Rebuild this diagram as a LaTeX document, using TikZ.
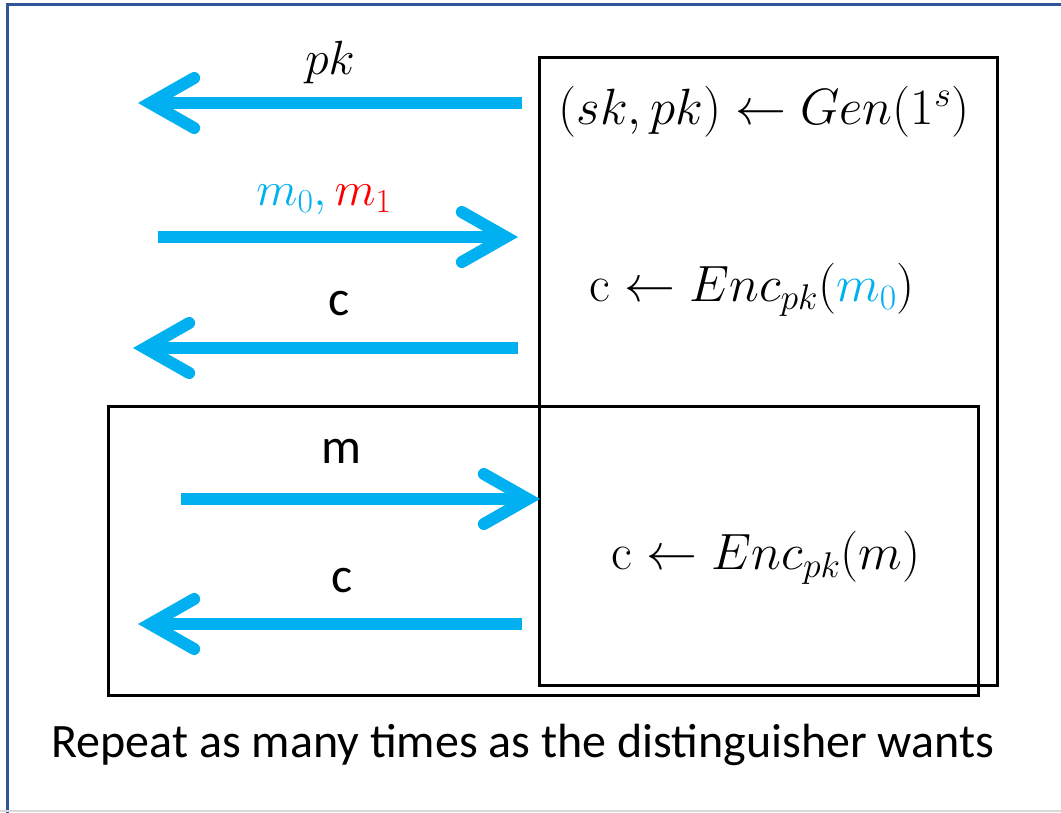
\RequirePackage{fix-cm}
\documentclass[tikz,border=0pt]{standalone}
\usepackage{fontspec}
\newfontfamily\cali{Carlito}
\usetikzlibrary{arrows.meta}
\definecolor{arr}{HTML}{00B0F0}
\definecolor{framecol}{HTML}{2F5597}
\definecolor{msgred}{HTML}{FF0000}
\begin{document}
\begin{tikzpicture}[x=1pt,y=-1pt,
  flow/.style={line width=12pt, draw=arr,
    -{Straight Barb[length=44pt,width=50pt,line width=12pt,line cap=round,line join=miter]}},
  box/.style={draw=black, line width=2.5pt, inner sep=0pt, anchor=north west},
  mathtxt/.style={inner sep=0pt, font=\fontsize{51}{60}\selectfont},
  lbl/.style={inner sep=0pt, anchor=base, font=\fontsize{48}{58}\selectfont},
  slbl/.style={inner sep=0pt, anchor=base, font=\cali\fontsize{50}{60}\selectfont}]
\useasboundingbox (0,0) rectangle (1061,812);
\draw[framecol, line width=2.5pt] (7.5,830) -- (7.5,4.5) -- (1075,4.5);
\draw[black!15, line width=1.5pt] (0,811) -- (1061,811);
% boxes
\node[box, minimum width=458pt, minimum height=628pt] (genbox) at (538,56) {};
\node[box, minimum width=870pt, minimum height=289pt] (repbox) at (107,405) {};
% texts in boxes
\node[mathtxt] (gentxt) at (764,112) {$(sk,pk)\leftarrow Gen(1^s)$};
\node[mathtxt] (enc0) at (752,290) {$\mathrm{c}\leftarrow Enc_{pk}({\color{arr}m_0})$};
\node[mathtxt] (enc) at (766,558) {$\mathrm{c}\leftarrow Enc_{pk}(m)$};
% arrow end points
\coordinate (a1s) at (522,103); \coordinate (a1e) at (138,103);
\coordinate (a2s) at (158,237); \coordinate (a2e) at (518,237);
\coordinate (a3s) at (518,348); \coordinate (a3e) at (133,348);
\coordinate (a4s) at (181,499); \coordinate (a4e) at (540,499);
\coordinate (a5s) at (522,624); \coordinate (a5e) at (138,624);
\draw[flow] (a1s) -- (a1e);
\draw[flow] (a2s) -- (a2e);
\draw[flow] (a3s) -- (a3e);
\draw[flow] (a4s) -- (a4e);
\draw[flow] (a5s) -- (a5e);
% labels
\node[lbl] (lpk) at (330,74) {$pk$};
\node[lbl] (lm01) at (324,205) {${\color{arr}m_0,}\,{\color{msgred}m_1}$};
\node[slbl] (lc1) at (339,315) {c};
\node[slbl] (lm) at (341,463) {m};
\node[slbl] (lc2) at (342,592) {c};
\node[inner sep=0pt, anchor=base, font=\cali\fontsize{48}{58}\selectfont] (rep) at (523,757) {Repeat as many times as the distinguisher wants};
\end{tikzpicture}
\end{document}
